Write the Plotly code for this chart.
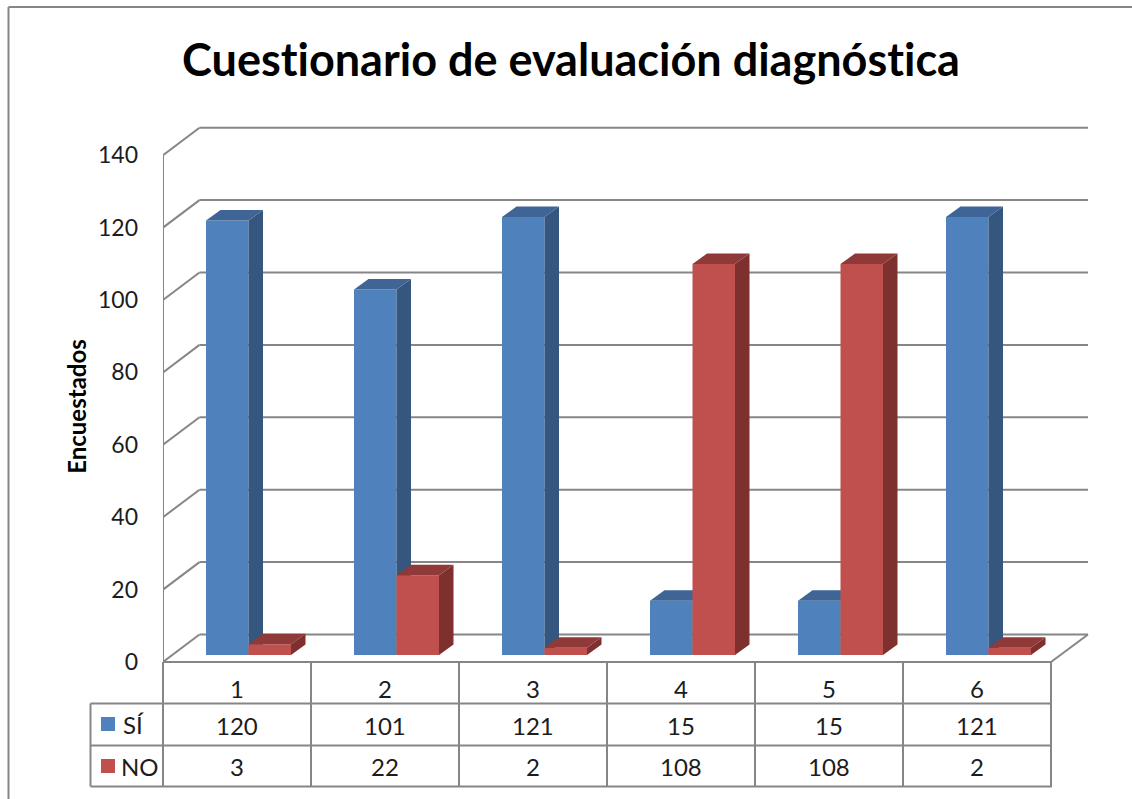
import plotly.graph_objects as go

# ---- data ----
categories = ["1", "2", "3", "4", "5", "6"]
si_values = [120, 101, 121, 15, 15, 121]
no_values = [3, 22, 2, 108, 108, 2]
y_ticks = [0, 20, 40, 60, 80, 100, 120, 140]
title_text = "Cuestionario de evaluación diagnóstica"
y_title = "Encuestados"

# ---- geometry / style ----
W, H = 1132, 799
X0, CAT_PX = 163.0, 148.0      # left axis pixel, pixels per category
Y0, UNIT_PX = 662.0, 3.62      # zero line pixel, pixels per value unit
TOP_PX = 14.0
DEPTH_X, DEPTH_Y = 36.5 / CAT_PX, 27.5 / UNIT_PX   # wall depth
BAR_DX, BAR_DY = 14.5 / CAT_PX, 10.5 / UNIT_PX     # bar depth
BAR_W = 42.5 / CAT_PX
BAR_BASE = 7.0 / UNIT_PX
BAR_SPLIT = (248.5 - X0) / CAT_PX
LINE = "#868686"
TXT = "#1c1c1c"
FONT = "Lato"
BLUE, BLUE_SIDE, BLUE_TOP = "#4F81BD", "#35577F", "#3E6595"
RED, RED_SIDE, RED_TOP = "#C0504D", "#7E302E", "#8F3A38"

x_range = [0, (W - X0) / CAT_PX]
y_range = [(Y0 - H) / UNIT_PX, (Y0 - TOP_PX) / UNIT_PX]
dom_x = [X0 / W, 1]
dom_y = [0, 1 - TOP_PX / H]


def px(x):
    return x / W


def py(y):
    return 1 - y / H


def faces(values, sign):
    """Side and top faces of the bars, in data units."""
    sx, sy, tx, ty = [], [], [], []
    for i, v in enumerate(values):
        left = i + BAR_SPLIT + (-BAR_W if sign < 0 else 0)
        right = left + BAR_W
        top = BAR_BASE + v
        sx += [right, right + BAR_DX, right + BAR_DX, right, right, None]
        sy += [BAR_BASE, BAR_BASE + BAR_DY, top + BAR_DY, top, BAR_BASE, None]
        tx += [left, left + BAR_DX, right + BAR_DX, right, left, None]
        ty += [top, top + BAR_DY, top + BAR_DY, top, top, None]
    return sx, sy, tx, ty


def add_series(fig, values, sign, name, front, side, top, xa, ya):
    xs = [i + BAR_SPLIT + sign * BAR_W / 2 for i in range(len(values))]
    fig.add_trace(go.Bar(x=xs, y=values, base=BAR_BASE, width=BAR_W, name=name,
                         marker=dict(color=front, line=dict(width=0)),
                         xaxis=xa, yaxis=ya, showlegend=False))
    sx, sy, tx, ty = faces(values, sign)
    for fx, fy, col in ((sx, sy, side), (tx, ty, top)):
        fig.add_trace(go.Scatter(x=fx, y=fy, mode="lines", fill="toself", fillcolor=col,
                                 line=dict(width=0), hoverinfo="skip", showlegend=False,
                                 xaxis=xa, yaxis=ya))


fig = go.Figure()
add_series(fig, si_values, -1, "SÍ", BLUE, BLUE_SIDE, BLUE_TOP, "x", "y")
add_series(fig, no_values, 1, "NO", RED, RED_SIDE, RED_TOP, "x2", "y2")

shapes = []
line = dict(color=LINE, width=2)

# walls and gridlines (drawn under the bars)
x_end = (1088 - X0) / CAT_PX
n = len(categories)
for t in y_ticks:
    for (a, b, c, d) in ((0, t, DEPTH_X, t + DEPTH_Y), (DEPTH_X, t + DEPTH_Y, x_end, t + DEPTH_Y)):
        shapes.append(dict(type="line", xref="x", yref="y", x0=a, y0=b, x1=c, y1=d, line=line, layer="below"))
shapes.append(dict(type="line", xref="x", yref="y", x0=0, y0=0, x1=0, y1=y_ticks[-1], line=line, layer="below"))
shapes.append(dict(type="line", xref="x", yref="y", x0=n, y0=0, x1=x_end, y1=DEPTH_Y, line=line, layer="below"))


def pline(x0, y0, x1, y1):
    shapes.append(dict(type="line", xref="paper", yref="paper", x0=px(x0), y0=py(y0),
                       x1=px(x1), y1=py(y1), line=line, layer="above"))


# outer frame
pline(8.5, 7, W, 7)
pline(8.5, 7, 8.5, H)

# data table
ROWS = [662, 703.5, 745.5, 786.5]
pline(X0, ROWS[0], X0 + n * CAT_PX, ROWS[0])
for r in ROWS[1:]:
    pline(90.5, r, X0 + n * CAT_PX + 1, r)
pline(90.5, ROWS[1], 90.5, ROWS[3])
for i in range(n + 1):
    pline(X0 + i * CAT_PX, ROWS[0], X0 + i * CAT_PX, ROWS[3])

# legend keys
for (yc, col) in ((724, BLUE), (766, RED)):
    shapes.append(dict(type="rect", xref="paper", yref="paper", x0=px(101), x1=px(115),
                       y0=py(yc - 7), y1=py(yc + 7), fillcolor=col, line=dict(width=0)))

annotations = []


def label(x, y, text, anchor="center", size=24):
    annotations.append(dict(xref="paper", yref="paper", x=px(x), y=py(y), text=text, showarrow=False,
                            xanchor=anchor, yanchor="middle", font=dict(family=FONT, size=size, color=TXT)))


for i, c in enumerate(categories):
    xc = X0 + (i + 0.5) * CAT_PX
    label(xc, 688, c)
    label(xc, 725, str(si_values[i]))
    label(xc, 766, str(no_values[i]))
label(121, 724, "SÍ", "left")
label(119, 766, "NO", "left")

axis_common = dict(showgrid=False, zeroline=False, showline=False)
fig.update_layout(
    width=W, height=H, autosize=False,
    margin=dict(l=0, r=0, t=0, b=0),
    paper_bgcolor="white", plot_bgcolor="rgba(0,0,0,0)",
    barmode="overlay", showlegend=False,
    title=dict(text=f"<b>{title_text}</b>", x=571 / W, xanchor="center", y=py(60), yanchor="middle",
               font=dict(family=FONT, size=45, color="#000000")),
    xaxis=dict(domain=dom_x, range=x_range, visible=False, **axis_common),
    xaxis2=dict(domain=dom_x, range=x_range, visible=False, overlaying="x", **axis_common),
    yaxis=dict(domain=dom_y, range=y_range, tickmode="array", tickvals=y_ticks,
               ticktext=[str(t) for t in y_ticks], ticks="", ticklabelstandoff=24,
               tickfont=dict(family=FONT, size=23, color=TXT),
               title=dict(text=f"<b>{y_title}</b>", standoff=4, font=dict(family=FONT, size=24, color="#000000")),
               **axis_common),
    yaxis2=dict(domain=dom_y, range=y_range, visible=False, overlaying="y", **axis_common),
    shapes=shapes, annotations=annotations,
)

post = ("document.body.style.margin='0';"
        "var s=document.createElement('style');"
        "s.textContent='svg text{font-variant-ligatures:none !important;}';"
        "document.head.appendChild(s);")
fig.write_html("out.html", config={"displayModeBar": False}, post_script=post)
